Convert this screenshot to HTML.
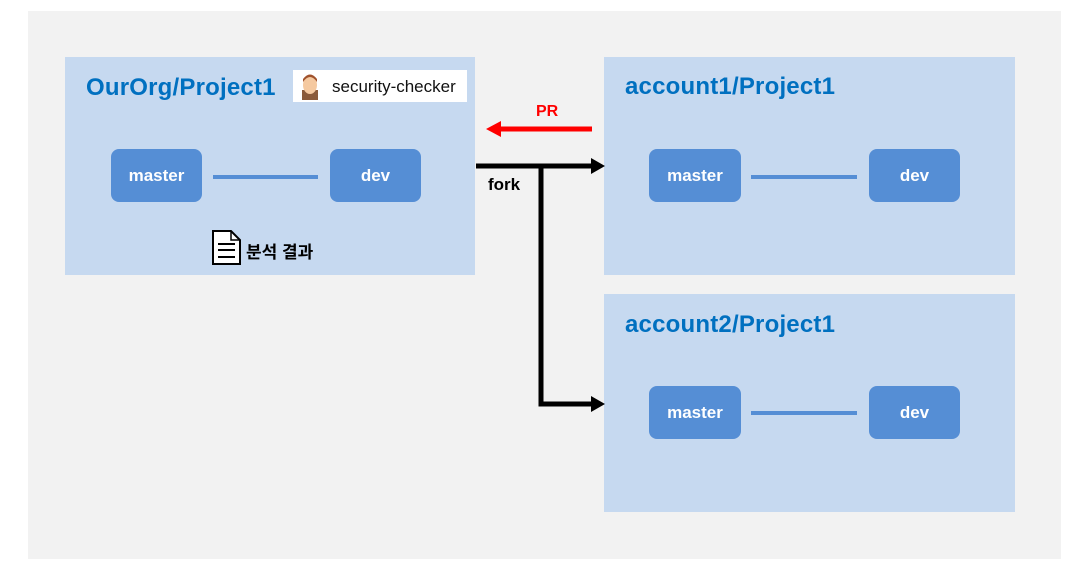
<!DOCTYPE html>
<html><head><meta charset="utf-8"><style>
body{margin:0;width:1086px;height:578px;background:#fff;position:relative;overflow:hidden;font-family:"Liberation Sans","Noto Sans CJK KR",sans-serif}
.a{position:absolute}
.bg{left:28px;top:11px;width:1033px;height:548px;background:#f2f2f2}
.p{background:#c6d9f0}
.b{background:#558ed5;border-radius:8px;color:#fff;font-size:17px;font-weight:bold;display:flex;align-items:center;justify-content:center}
.l{background:#558ed5;height:4px}
.t{color:#0070c0;font-size:24px;font-weight:bold;letter-spacing:0.2px}
</style></head><body>
<div class="a bg"></div>
<div class="a p" style="left:65px;top:57px;width:410px;height:218px"></div>
<div class="a p" style="left:604px;top:57px;width:411px;height:218px"></div>
<div class="a p" style="left:604px;top:294px;width:411px;height:218px"></div>
<div class="a t" style="left:86px;top:74px">OurOrg/Project1</div>
<div class="a t" style="left:625px;top:73px">account1/Project1</div>
<div class="a t" style="left:625px;top:311px">account2/Project1</div>
<div class="a" style="left:293px;top:70px;width:174px;height:32px;background:#fff;overflow:hidden;white-space:nowrap">
<svg class="a" style="left:4px;top:2px" width="26" height="28"><rect x="5" y="18" width="16" height="10" fill="#8a5a3a"/><ellipse cx="13" cy="13" rx="7" ry="9" fill="#f5c9a0"/><path d="M6 10 Q13 0 20 10 L20 7 Q13 -2 6 7Z" fill="#a0522d"/></svg>
<span class="a" style="left:39px;top:7px;font-size:17px;color:#111">security-checker</span></div>
<div class="a b" style="left:111px;top:149px;width:91px;height:53px">master</div>
<div class="a b" style="left:330px;top:149px;width:91px;height:53px">dev</div>
<div class="a l" style="left:213px;top:175px;width:105px"></div>
<div class="a b" style="left:649px;top:149px;width:92px;height:53px">master</div>
<div class="a b" style="left:869px;top:149px;width:91px;height:53px">dev</div>
<div class="a l" style="left:751px;top:175px;width:106px"></div>
<div class="a b" style="left:649px;top:386px;width:92px;height:53px">master</div>
<div class="a b" style="left:869px;top:386px;width:91px;height:53px">dev</div>
<div class="a l" style="left:751px;top:411px;width:106px"></div>
<svg class="a" style="left:211px;top:230px" width="32" height="36"><path d="M2 1 H20 L29 10 V34 H2Z" fill="#fff" stroke="#000" stroke-width="2"/><path d="M20 1 V10 H29" fill="none" stroke="#000" stroke-width="1.5"/><path d="M7 14H24M7 20H24M7 27H24" stroke="#000" stroke-width="2"/></svg>
<div class="a" style="left:246px;top:238px;font-size:17px;color:#000;font-weight:bold">분석 결과</div>
<svg class="a" style="left:0;top:0" width="1086" height="578">
<path d="M476 166 H596 M541 166 V404 H596" fill="none" stroke="#000" stroke-width="5"/>
<polygon points="605,166 591,158 591,174" fill="#000"/>
<polygon points="605,404 591,396 591,412" fill="#000"/>
<path d="M592 129 H498" stroke="#f00" stroke-width="5"/>
<polygon points="486,129 501,121 501,137" fill="#f00"/>
</svg>
<div class="a" style="left:536px;top:103px;color:#f00;font-weight:bold;font-size:16px">PR</div>
<div class="a" style="left:488px;top:175px;color:#000;font-weight:bold;font-size:17px">fork</div>
</body></html>
